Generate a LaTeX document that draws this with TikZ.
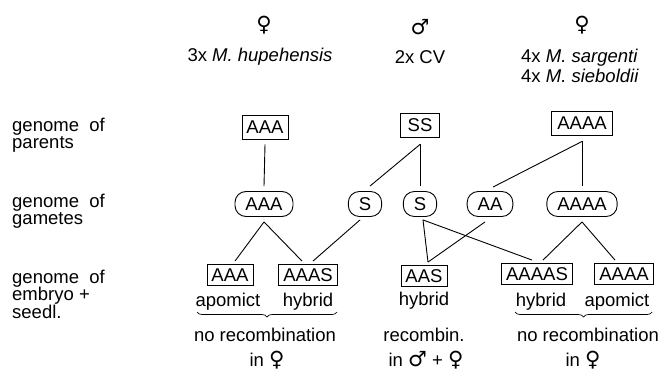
\documentclass[tikz,border=0pt]{standalone}
\usepackage{fontspec}
\setmainfont{Liberation Sans}
\newfontfamily\sym{DejaVu Sans}
\usetikzlibrary{decorations.pathreplacing}
\begin{document}
\begin{tikzpicture}[x=1pt,y=-1pt,
  every node/.style={font=\fontsize{18.5}{18.5}\selectfont, inner sep=0pt},
  lbl/.style={align=left, anchor=west, font=\fontsize{18.5}{17.5}\selectfont},
  symb/.style={font=\sym\fontsize{21}{21}\selectfont},
  pbox/.style={draw, line width=0.9pt, inner xsep=4.5pt, minimum height=24pt},
  ebox/.style={draw, line width=0.9pt, inner xsep=4.5pt, minimum height=21pt},
  gam/.style={draw, line width=0.9pt, rounded corners=11pt, inner xsep=10.5pt, minimum height=25pt},
  conn/.style={line width=0.9pt},
  brc/.style={line width=0.7pt, decorate, decoration={brace, mirror, amplitude=5pt}}
]
\useasboundingbox (0,0) rectangle (663,372);

% top row
\node[symb] (f1) at (264,25) {♀};
\node (sp1) at (260,57) {3x \textit{M. hupehensis}};
\node[symb] (m1) at (420,27) {♂};
\node (sp2) at (420,57) {2x CV};
\node[symb] (f2) at (582,25) {♀};
\node[align=left, anchor=west, font=\fontsize{18.5}{19.5}\selectfont] (sp3) at (521,66) {4x \textit{M. sargenti}\\4x \textit{M. sieboldii}};

% left labels
\node[lbl] (l1) at (12,135) {genome\ \ of\\parents};
\node[lbl] (l2) at (12,211) {genome\ \ of\\gametes};
\node[lbl] (l3) at (12,294) {genome\ \ of\\embryo +\\seedl.};

% parents
\node[pbox] (pAAA) at (265,127) {AAA};
\node[pbox, inner xsep=7pt] (pSS) at (420,125) {SS};
\node[pbox, inner xsep=6pt] (pAAAA) at (582,123) {AAAA};

% gametes
\node[gam] (gAAA) at (264,204) {AAA};
\node[gam] (gS1) at (365,204) {S};
\node[gam] (gS2) at (420,204) {S};
\node[gam] (gAA) at (490,204) {AA};
\node[gam] (gAAAA) at (582,204) {AAAA};

% embryos
\node[ebox] (eAAA) at (230,275) {AAA};
\node[ebox] (eAAAS) at (308,275) {AAAS};
\node[ebox] (eAAS) at (424,276) {AAS};
\node[ebox, inner xsep=5pt] (eAAAAS) at (537,274) {AAAAS};
\node[ebox, inner xsep=5pt] (eAAAA) at (624,274) {AAAA};

% labels under embryos
\node (a1) at (228,302) {apomict};
\node (h1) at (308,302) {hybrid};
\node (h2) at (424,301) {hybrid};
\node (h3) at (541,302) {hybrid};
\node (a2) at (617,302) {apomict};

\draw[brc] (197,312) -- (337,312);
\draw[brc] (515,312) -- (652,312);

\node (r1) at (265,335) {no recombination};
\node (r2) at (424,335) {recombin.};
\node (r3) at (588,335) {no recombination};

\node (i1) at (267,360) {in {\sym\fontsize{21}{21}\selectfont ♀}};
\node (i2) at (426,360) {in {\sym\fontsize{21}{21}\selectfont ♂} + {\sym\fontsize{21}{21}\selectfont ♀}};
\node (i3) at (583,360) {in {\sym\fontsize{21}{21}\selectfont ♀}};

% connectors parents -> gametes
\draw[conn] ([yshift=-5pt]pAAA.south) -- ([yshift=5pt]gAAA.north);
\draw[conn] ([yshift=-7pt]pSS.south) -- ([xshift=5pt,yshift=5pt]gS1.north);
\draw[conn] ([yshift=-7pt]pSS.south) -- ([yshift=5pt]gS2.north);
\draw[conn] ([yshift=-6pt]pAAAA.south) -- ([xshift=3pt,yshift=4pt]gAA.north);
\draw[conn] ([yshift=-6pt]pAAAA.south) -- ([yshift=5pt]gAAAA.north);

% connectors gametes -> embryos
\draw[conn] ([yshift=-5pt]gAAA.south) -- ([xshift=5pt,yshift=3pt]eAAA.north);
\draw[conn] ([yshift=-5pt]gAAA.south) -- ([xshift=-6pt,yshift=3pt]eAAAS.north);
\draw[conn] ([xshift=-5pt,yshift=-3pt]gS1.south) -- ([xshift=5pt,yshift=3pt]eAAAS.north);
\draw[conn] ([xshift=3pt,yshift=-3pt]gS2.south) -- ([xshift=4pt,yshift=3pt]eAAS.north);
\draw[conn] ([xshift=3pt,yshift=-3pt]gS2.south) -- ([xshift=-5pt,yshift=3pt]eAAAAS.north);
\draw[conn] ([xshift=-5pt,yshift=-5pt]gAA.south) -- ([xshift=4pt,yshift=3pt]eAAS.north);
\draw[conn] ([yshift=-5pt]gAAAA.south) -- ([xshift=6pt,yshift=3pt]eAAAAS.north);
\draw[conn] ([yshift=-5pt]gAAAA.south) -- ([xshift=-9pt,yshift=3pt]eAAAA.north);
\end{tikzpicture}
\end{document}
